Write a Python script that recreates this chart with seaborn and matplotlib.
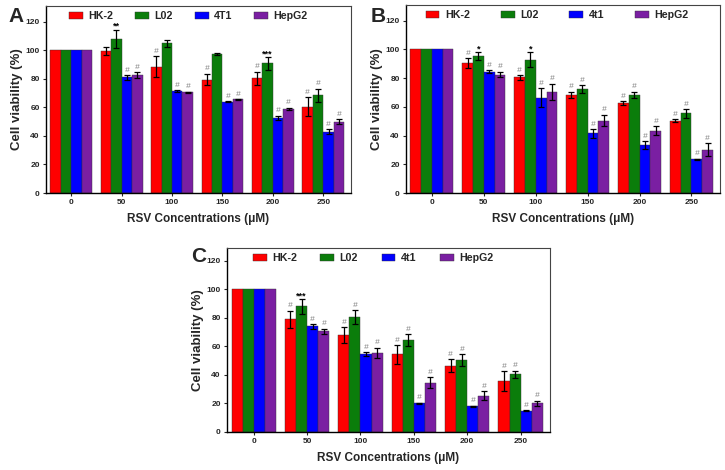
import matplotlib
matplotlib.use("Agg")
import matplotlib.pyplot as plt
import seaborn as sns
import pandas as pd
import numpy as np

sns.set_theme(style="ticks")
plt.rcParams['font.family'] = ['Liberation Sans', 'DejaVu Sans']
plt.rcParams['font.weight'] = 'bold'

concentrations = ["0", "50", "100", "150", "200", "250"]
colors = ["#FF0000", "#0B7D0B", "#0000FF", "#7A1FA2"]

# Panel A
lines_A = ["HK-2", "L02", "4T1", "HepG2"]
A_hk2 = [100, 99.5, 88.5, 79.5, 80.5, 60.5]
A_hk2_err = [0, 3, 7.5, 4, 4.5, 6.5]
A_l02 = [100, 108, 105, 97.5, 91, 68.5]
A_l02_err = [0, 6.5, 2.5, 0.5, 4.5, 4.5]
A_4t1 = [100, 81, 71.5, 64, 52.5, 43]
A_4t1_err = [0, 1.5, 0.5, 0.5, 1.5, 1.5]
A_hepg2 = [100, 82.5, 70.5, 65.5, 59, 50]
A_hepg2_err = [0, 2, 0.5, 0.3, 0.8, 1.5]
A_marks = [
    ["", "", "#", "#", "#", "#"],
    ["", "**", "", "", "***", "#"],
    ["", "#", "#", "#", "#", "#"],
    ["", "#", "#", "#", "#", "#"],
]

# Panel B
lines_B = ["HK-2", "L02", "4t1", "HepG2"]
B_hk2 = [100, 90.5, 80.5, 68.5, 62.5, 50.5]
B_hk2_err = [0, 3.5, 1.5, 2, 1.5, 1]
B_l02 = [100, 95.5, 93, 72.5, 68.5, 55.5]
B_l02_err = [0, 2.5, 5, 2.5, 2, 3]
B_4t1 = [100, 84.5, 66.5, 41.5, 33.5, 23.5]
B_4t1_err = [0, 1, 6.5, 3, 2.5, 0.5]
B_hepg2 = [100, 82.5, 70.5, 50.5, 43.5, 30]
B_hepg2_err = [0, 2, 5.5, 4, 3, 4.5]
B_marks = [
    ["", "#", "#", "#", "#", "#"],
    ["", "*", "*", "#", "#", "#"],
    ["", "#", "#", "#", "#", "#"],
    ["", "#", "#", "#", "#", "#"],
]

# Panel C
lines_C = ["HK-2", "L02", "4t1", "HepG2"]
C_hk2 = [100, 79, 68, 54.5, 46.5, 35.5]
C_hk2_err = [0, 6, 5.5, 6.5, 4.5, 7]
C_l02 = [100, 88, 80.5, 64.5, 50.5, 40.5]
C_l02_err = [0, 5, 5, 4, 4, 2.5]
C_4t1 = [100, 74, 54.5, 20, 18, 15]
C_4t1_err = [0, 1.5, 1.5, 0.5, 0.5, 0.3]
C_hepg2 = [100, 70.5, 55.5, 34.5, 25.5, 20]
C_hepg2_err = [0, 2, 3.5, 4, 3, 2]
C_marks = [
    ["", "#", "#", "#", "#", "#"],
    ["", "***", "#", "#", "#", "#"],
    ["", "#", "#", "#", "#", "#"],
    ["", "#", "#", "#", "#", "#"],
]

panels = [
    ("A", lines_A, [A_hk2, A_l02, A_4t1, A_hepg2],
     [A_hk2_err, A_l02_err, A_4t1_err, A_hepg2_err], A_marks,
     [46, 351, 6, 193], (0.0, 131), (16, 17), 2.05, 0.467),
    ("B", lines_B, [B_hk2, B_l02, B_4t1, B_hepg2],
     [B_hk2_err, B_l02_err, B_4t1_err, B_hepg2_err], B_marks,
     [406, 720, 5, 193], (0.0, 131), (378, 17), 2.9, 0.481),
    ("C", lines_C, [C_hk2, C_l02, C_4t1, C_hepg2],
     [C_hk2_err, C_l02_err, C_4t1_err, C_hepg2_err], C_marks,
     [227, 550, 248, 432], (0.0, 129), (199, 257), 2.2, 0.452),
]

W, H = 725, 470
fig = plt.figure(figsize=(W / 100, H / 100), dpi=100)

for letter, names, vals, errs, marks, box, ylim, lpos, colsp, lx in panels:
    l, r, t, b = box
    ax = fig.add_axes([l / W, (H - b) / H, (r - l) / W, (b - t) / H])
    rows = []
    for name, v in zip(names, vals):
        for c, y in zip(concentrations, v):
            rows.append({"conc": c, "line": name, "viability": y})
    df = pd.DataFrame(rows)
    sns.barplot(data=df, x="conc", y="viability", hue="line", order=concentrations,
                hue_order=names, palette=colors, errorbar=None, width=0.83,
                saturation=1, edgecolor="#333333", linewidth=0.3, ax=ax)
    bar_conts = list(ax.containers)
    for ci, cont in enumerate(bar_conts):
        for bi, bar in enumerate(cont.patches):
            xc = bar.get_x() + bar.get_width() / 2
            h = bar.get_height()
            e = errs[ci][bi]
            if e > 0:
                ax.errorbar(xc, h, yerr=e, fmt="none", ecolor="black",
                            elinewidth=0.9, capsize=2.5, capthick=0.9, zorder=5)
            m = marks[ci][bi]
            if m:
                top = h + e
                if m == "#":
                    ax.text(xc, top + 1.0, m, ha="center", va="bottom",
                            fontsize=6, color="#808080", fontweight="normal",
                            style="italic")
                else:
                    ax.text(xc, top - 1.0, m, ha="center", va="bottom",
                            fontsize=6.5, color="black", fontweight="bold")
    ax.set_ylim(*ylim)
    ax.set_xlim(-0.5, 5.55)
    ax.set_yticks([0, 20, 40, 60, 80, 100, 120])
    ax.tick_params(axis="both", labelsize=6, length=2.5, width=0.8, direction="out",
                   pad=2)
    for lab in ax.get_xticklabels() + ax.get_yticklabels():
        lab.set_fontweight("bold")
    ax.set_ylabel("Cell viability (%)", fontsize=9.5, fontweight="bold", labelpad=2)
    ax.set_xlabel("RSV Concentrations (\u03bcM)", fontsize=8.5, fontweight="bold",
                  labelpad=5)
    for s in ["left", "bottom"]:
        ax.spines[s].set_color("black")
        ax.spines[s].set_linewidth(1.0)
    for s in ["top", "right"]:
        ax.spines[s].set_color("#444444")
        ax.spines[s].set_linewidth(0.8)
    leg = ax.legend(loc="upper center", ncol=4, frameon=False, fontsize=7.7,
                    handlelength=1.3, handleheight=0.7, columnspacing=colsp,
                    handletextpad=0.5, bbox_to_anchor=(lx, 1.0), borderaxespad=0.1)
    for txt in leg.get_texts():
        txt.set_fontweight("bold")
    fig.text(lpos[0] / W, (H - lpos[1]) / H, letter, fontsize=15, fontweight="bold",
             ha="center", va="center")

fig.savefig("out.png", dpi=100)
